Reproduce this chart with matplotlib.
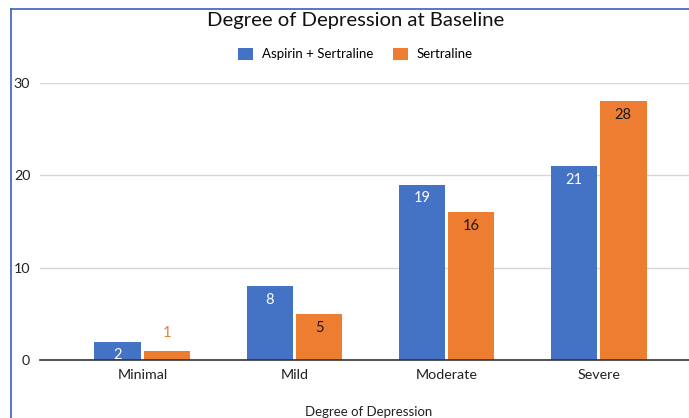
import numpy as np
import matplotlib.pyplot as plt
from matplotlib.patches import Patch

plt.rcParams['font.family'] = ['Lato', 'DejaVu Sans']

categories = ["Minimal", "Mild", "Moderate", "Severe"]
series_names = ["Aspirin + Sertraline", "Sertraline"]
aspirin = [2, 8, 19, 21]
sertraline = [1, 5, 16, 28]

blue = "#4472C4"
orange = "#ED7D31"

fig = plt.figure(figsize=(6.89, 4.18), dpi=100)
ax = fig.add_axes([0.058, 0.1376, 0.942, 0.664])

x = np.arange(len(categories))
w = 0.305
off = 0.163
b1 = ax.bar(x - off, aspirin, w, color=blue, zorder=3)
b2 = ax.bar(x + off, sertraline, w, color=orange, zorder=3)

# value labels: inside the bar top, or above it when the bar is too short
for rect, v in zip(b1, aspirin):
    cx = rect.get_x() + rect.get_width() / 2
    ax.text(cx, v - 0.7, str(v), ha="center", va="top", color="white",
            fontsize=10.5, zorder=4)
for rect, v in zip(b2, sertraline):
    cx = rect.get_x() + rect.get_width() / 2
    if v < 2:
        ax.text(cx, v + 1.2, str(v), ha="center", va="bottom", color=orange,
                fontsize=10.5, zorder=4)
    else:
        ax.text(cx, v - 0.7, str(v), ha="center", va="top", color="#1a1a1a",
                fontsize=10.5, zorder=4)

ax.set_xlim(-0.674, 3.595)
ax.set_ylim(0, 30)
ax.set_yticks([0, 10, 20, 30])
ax.set_xticks(x)
ax.set_xticklabels(categories)
ax.tick_params(axis="both", length=0, labelsize=10.3, colors="#222222")
ax.tick_params(axis="x", pad=6)
ax.tick_params(axis="y", pad=7)
ax.grid(axis="y", color="#d6d6d6", linewidth=1, zorder=0)
for s in ["top", "right", "left"]:
    ax.spines[s].set_visible(False)
ax.spines["bottom"].set_color("#333333")
ax.spines["bottom"].set_linewidth(1.2)
ax.spines["bottom"].set_zorder(5)

ax.set_xlabel("Degree of Depression", fontsize=9.5, color="#222222")
ax.xaxis.set_label_coords(0.507, -0.165)

fig.text(0.516, 0.952, "Degree of Depression at Baseline", ha="center", va="center",
         fontsize=14.6, color="#111111")

handles = [Patch(facecolor=blue), Patch(facecolor=orange)]
fig.legend(handles, series_names, loc="center", bbox_to_anchor=(0.516, 0.871),
           ncol=2, frameon=False, fontsize=9.5, handlelength=1.1, handleheight=1.05,
           columnspacing=1.5, handletextpad=0.7)

# blue frame at the top and left edge of the picture
fig.add_artist(plt.Line2D([0.016, 0.016], [0, 0.979], color="#3a5fbf", linewidth=1.2))
fig.add_artist(plt.Line2D([0.016, 1.0], [0.979, 0.979], color="#3a5fbf", linewidth=1.2))

fig.savefig("out.png", dpi=100)
